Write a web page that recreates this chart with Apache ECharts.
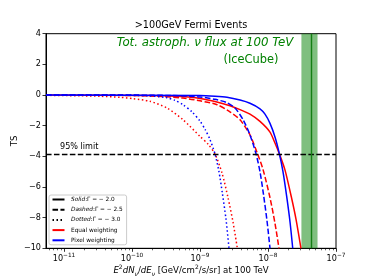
<!DOCTYPE html>
<html><head><meta charset="utf-8">
<script src="https://cdn.jsdelivr.net/npm/echarts@6/dist/echarts.min.js"></script>
<style>html,body{margin:0;padding:0;background:#fff}#c{width:374px;height:280px}</style>
</head><body><div id="c"></div>
<script>
// ---- data ----
const xMin = 5.43e-12, xMax = 1e-7;
const yMin = -10, yMax = 4, yStep = 2;
const xTickValues = [1e-11, 1e-10, 1e-9, 1e-8, 1e-7];
const limitTS = -3.84;
const iceFlux = 4.3e-8, iceLo = 3.1e-8, iceHi = 5.35e-8;

// Equal weighting (red)
const fluxEqualG20 = [5.43e-12,1.84e-10,5.08e-10,1.00e-9,1.66e-9,2.76e-9,3.88e-9,5.43e-9,7.62e-9,1.07e-8,1.27e-8,1.47e-8,1.78e-8,2.23e-8,2.58e-8,3.05e-8];
const tsEqualG20   = [0,-0.03,-0.1,-0.22,-0.42,-0.7,-0.95,-1.25,-1.72,-2.42,-3.15,-3.84,-4.9,-6.75,-8.1,-10];
const fluxEqualG25 = [5.43e-12,6.67e-11,1.84e-10,5.62e-10,1.00e-9,1.78e-9,2.76e-9,3.88e-9,5.43e-9,7.02e-9,8.44e-9,1.07e-8,1.27e-8,1.45e-8];
const tsEqualG25   = [0,-0.02,-0.06,-0.2,-0.38,-0.63,-1.1,-1.62,-2.6,-3.84,-4.85,-6.7,-8.4,-10];
const fluxEqualG30 = [5.43e-12,1.72e-11,3.38e-11,6.67e-11,1.04e-10,1.84e-10,3.27e-10,5.62e-10,1.00e-9,1.31e-9,1.66e-9,2.11e-9,2.58e-9,3.06e-9,3.54e-9];
const tsEqualG30   = [-0.02,-0.05,-0.08,-0.15,-0.24,-0.41,-0.85,-1.61,-2.7,-3.2,-3.84,-5.1,-6.7,-8.3,-10];
// Pixel weighting (blue)
const fluxPixelG20 = [5.43e-12,1.00e-9,1.66e-9,2.49e-9,3.88e-9,5.43e-9,7.62e-9,9.03e-9,1.07e-8,1.27e-8,1.47e-8,1.66e-8,1.88e-8,2.11e-8,2.31e-8];
const tsPixelG20   = [0,-0.03,-0.08,-0.15,-0.33,-0.54,-0.9,-1.25,-1.85,-2.75,-3.84,-5.0,-6.6,-8.3,-10];
const fluxPixelG25 = [5.43e-12,1.84e-10,5.08e-10,1.00e-9,1.66e-9,2.49e-9,3.27e-9,4.29e-9,5.43e-9,6.67e-9,7.62e-9,8.59e-9,9.66e-9,1.07e-8];
const tsPixelG25   = [0,-0.01,-0.05,-0.13,-0.28,-0.5,-0.85,-1.6,-2.6,-3.84,-5.0,-6.5,-8.2,-10];
const fluxPixelG30 = [5.43e-12,6.67e-11,1.84e-10,3.27e-10,4.29e-10,5.62e-10,7.63e-10,1.00e-9,1.19e-9,1.40e-9,1.66e-9,1.90e-9,2.13e-9,2.41e-9,2.67e-9];
const tsPixelG30   = [0,-0.01,-0.06,-0.18,-0.35,-0.63,-1.1,-1.7,-2.25,-2.9,-3.84,-5.0,-6.4,-8.1,-10];

const legendNames = ['Solid', 'Dashed', 'Dotted', 'Equal weighting', 'Pixel weighting'];
const legendGamma = {Solid: '2.0', Dashed: '2.5', Dotted: '3.0'};

// ---- build ----
const FONT = 'DejaVu Sans';
const minorTicks = [];
for (let e = -12; e <= -8; e++) for (let k = 2; k <= 9; k++) { const v = k * Math.pow(10, e); if (v > xMin && v < xMax) minorTicks.push(v); }
const pairs = (f, t) => f.map((v, i) => [v, t[i]]);
const DASH = [5.55, 2.4], DOT = [1.5, 2.5];
const RED = '#ff0000', BLUE = '#0000ff';
function curve(name, color, dash, f, t, extra) {
  return Object.assign({
    type: 'line', name, data: pairs(f, t), symbol: 'none', smooth: 0.25, silent: true,
    itemStyle: {color}, lineStyle: {color, width: 1.5, type: dash}, z: 3
  }, extra || {});
}
function dummy(name, dash) {
  return {type: 'line', name, data: [], symbol: 'none', itemStyle: {color: '#000'}, lineStyle: {color: '#000', width: 1.5, type: dash}};
}

const chart = echarts.init(document.getElementById('c'), null, {renderer: 'canvas'});
chart.setOption({
  animation: false,
  backgroundColor: '#fff',
  title: {text: '>100GeV Fermi Events', left: 191, top: 20, textAlign: 'center', padding: 0,
    textStyle: {fontSize: 9.7, fontWeight: 'normal', color: '#000', fontFamily: FONT}},
  grid: {left: 46, right: 38, top: 33.7, bottom: 31.7, show: true, borderColor: '#000', borderWidth: 1, containLabel: false, outerBoundsMode: 'none'},
  xAxis: [{
    type: 'log', min: xMin, max: xMax, logBase: 10, position: 'bottom',
    axisLine: {show: true, onZero: false, lineStyle: {color: '#000', width: 1}},
    axisTick: {show: true, length: 3.5, lineStyle: {color: '#000', width: 0.8}, customValues: xTickValues},
    axisLabel: {show: true, margin: 4, customValues: xTickValues, color: '#000', fontFamily: FONT,
      formatter: v => { const e = Math.round(Math.log10(v)); return '{b|10}{s|' + (e < 0 ? '\u2212' : '') + Math.abs(e) + '}'; },
      rich: {b: {fontSize: 8.1, fontFamily: FONT, color: '#000', verticalAlign: 'bottom', padding: [2.5, 0, 0, 0]},
             s: {fontSize: 5.8, fontFamily: FONT, color: '#000', verticalAlign: 'top', lineHeight: 6}}},
    splitLine: {show: false},
    name: '{i|E}{sup|2}{i|dN}{sub|\u03bd}{n|/}{i|dE}{sub|\u03bd}{n| [GeV/cm}{sup|2}{n|/s/sr] at 100 TeV}',
    nameLocation: 'middle', nameGap: 16, nameMoveOverlap: false,
    nameTextStyle: {fontSize: 8.6, fontFamily: FONT, color: '#000',
      rich: {i: {fontStyle: 'italic', fontSize: 8.6, fontFamily: FONT, color: '#000', padding: [2, 0, 2, 0]},
             n: {fontSize: 8.6, fontFamily: FONT, color: '#000', padding: [2, 0, 2, 0]},
             sup: {fontSize: 6, fontFamily: FONT, color: '#000', verticalAlign: 'top', lineHeight: 6},
             sub: {fontSize: 6, fontStyle: 'italic', fontFamily: FONT, color: '#000', verticalAlign: 'bottom', lineHeight: 7}}}
  }, {
    type: 'log', min: xMin, max: xMax, logBase: 10, position: 'bottom',
    axisLine: {show: false, onZero: false}, axisLabel: {show: false}, splitLine: {show: false},
    axisTick: {show: true, length: 2, lineStyle: {color: '#000', width: 0.6}, customValues: minorTicks}
  }],
  yAxis: {
    type: 'value', min: yMin, max: yMax, interval: yStep,
    axisLine: {show: true, onZero: false, lineStyle: {color: '#000', width: 1}},
    axisTick: {show: true, length: 3.5, lineStyle: {color: '#000', width: 0.8}},
    axisLabel: {margin: 5, fontSize: 8.1, color: '#000', fontFamily: FONT, formatter: v => v < 0 ? '\u2212' + (-v) : String(v)},
    splitLine: {show: false},
    name: 'TS', nameLocation: 'middle', nameGap: 27, nameRotate: 90, nameMoveOverlap: false,
    nameTextStyle: {fontSize: 8.6, color: '#000', fontFamily: FONT}
  },
  legend: {
    orient: 'vertical', left: 49, top: 195, selectedMode: false,
    data: legendNames, itemWidth: 12, itemHeight: 7, itemGap: 4.2,
    padding: [1.5, 4, 1.5, 2.5], borderColor: '#cccccc', borderWidth: 1, borderRadius: 2,
    backgroundColor: 'rgba(255,255,255,0.8)',
    itemStyle: {opacity: 0, borderWidth: 0},
    textStyle: {fontSize: 5.8, color: '#000', fontFamily: FONT, padding: [0, 0, 0, 1.5],
      rich: {i: {fontStyle: 'italic', fontSize: 5.8, fontFamily: FONT, color: '#000'}, n: {fontSize: 5.8, fontFamily: FONT, color: '#000'}}},
    formatter: name => legendGamma[name] ? '{i|' + name + '}{n|:\u0393 = \u2212 ' + legendGamma[name] + '}' : name
  },
  graphic: [
    {type: 'text', x: 205, y: 43, z: 10, style: {text: 'Tot. astroph. \u03bd flux at 100 TeV', fill: '#008000', font: 'italic 11.8px "DejaVu Sans"', align: 'center', verticalAlign: 'middle'}},
    {type: 'text', x: 251, y: 60, z: 10, style: {text: '(IceCube)', fill: '#008000', font: '11.4px "DejaVu Sans"', align: 'center', verticalAlign: 'middle'}}
  ],
  series: [
    dummy('Solid', 'solid'), dummy('Dashed', DASH), dummy('Dotted', DOT),
    curve('Equal weighting', RED, 'solid', fluxEqualG20, tsEqualG20, {
      markLine: {silent: true, symbol: 'none', animation: false,
        lineStyle: {color: '#000', width: 1.3, type: DASH},
        label: {show: true, position: 'insideStartTop', formatter: '95% limit', fontSize: 8.1, color: '#000', fontFamily: FONT, distance: [14, 3]},
        data: [{yAxis: limitTS}]}
    }),
    curve('Equal weighting', RED, DASH, fluxEqualG25, tsEqualG25),
    curve('Equal weighting', RED, DOT, fluxEqualG30, tsEqualG30),
    curve('Pixel weighting', BLUE, 'solid', fluxPixelG20, tsPixelG20, {
      markArea: {silent: true, itemStyle: {color: 'rgba(0,128,0,0.5)'}, data: [[{xAxis: iceLo}, {xAxis: iceHi}]]},
      markLine: {silent: true, symbol: 'none', animation: false, label: {show: false},
        lineStyle: {color: '#137f13', width: 1.4, type: 'solid'},
        data: [[{coord: [iceFlux, yMin]}, {coord: [iceFlux, yMax]}]]}
    }),
    curve('Pixel weighting', BLUE, DASH, fluxPixelG25, tsPixelG25),
    curve('Pixel weighting', BLUE, DOT, fluxPixelG30, tsPixelG30)
  ]
});
</script></body></html>
